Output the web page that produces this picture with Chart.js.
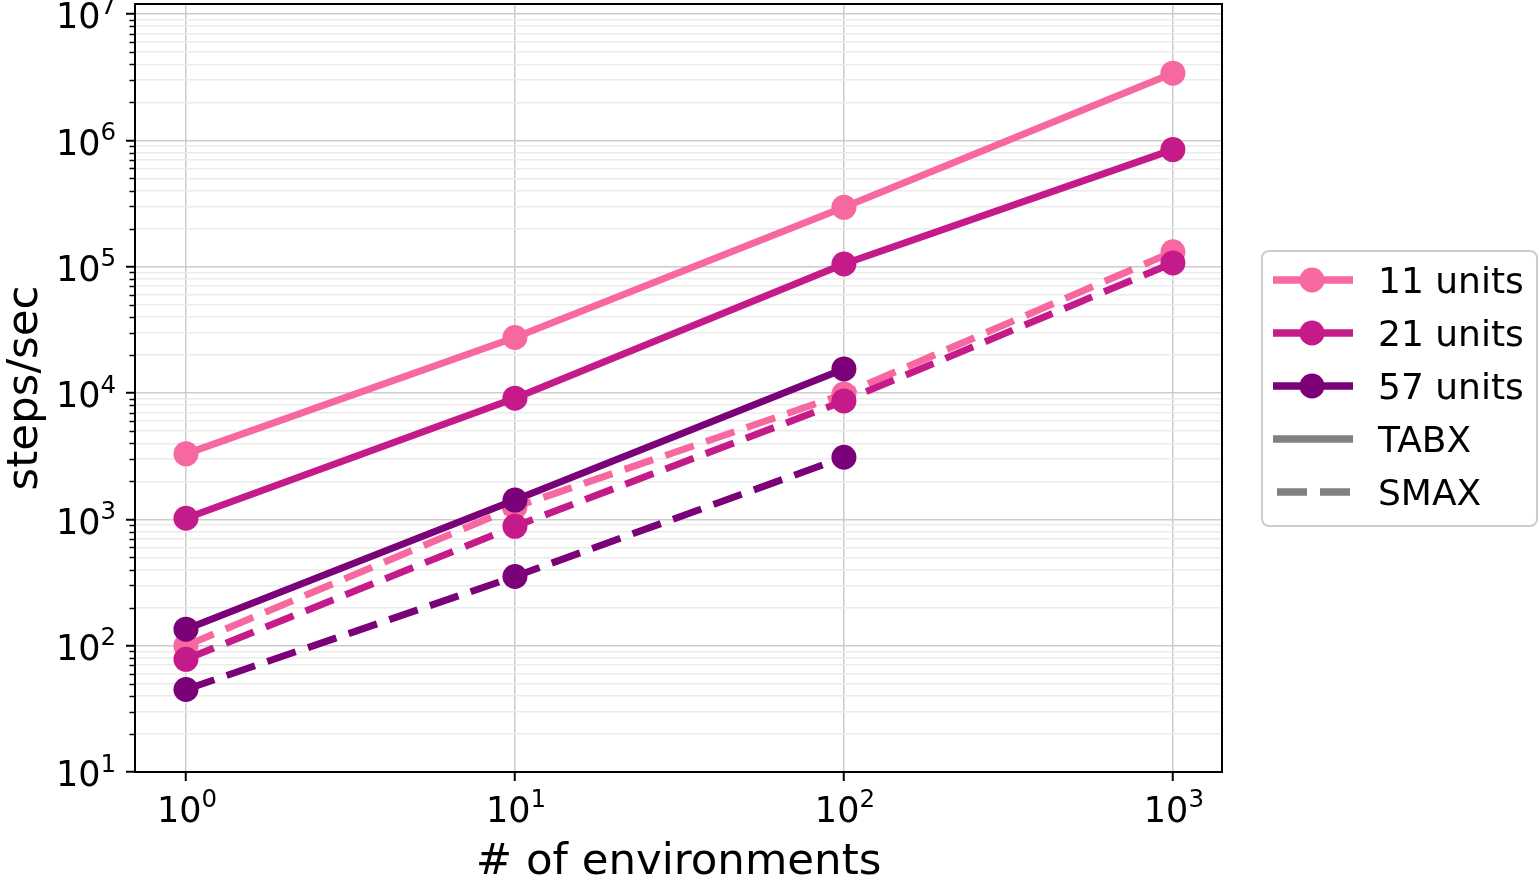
<!DOCTYPE html>
<html>
<head>
<meta charset="utf-8">
<script src="https://cdn.jsdelivr.net/npm/chart.js@4.4.0/dist/chart.umd.min.js"></script>
<style>
  html, body { margin: 0; padding: 0; background: #fff; }
  #wrap { width: 1539px; height: 884px; }
</style>
</head>
<body>
<div id="wrap"><canvas id="perfChart"></canvas></div>
<script>
// number of parallel environments
const envCounts = [1, 10, 100, 1000];

// steps/sec
const tabx11 = [3300, 27500, 295000, 3400000];
const tabx21 = [1020, 9100, 105000, 845000];
const tabx57 = [135, 1420, 15500];
const smax11 = [100, 1250, 9800, 131000];
const smax21 = [78, 880, 8650, 107000];
const smax57 = [45, 353, 3100];

const xTicks = [1, 10, 100, 1000];

const FONT = 'DejaVu Sans';
const C11 = '#f768a1', C21 = '#c51b8a', C57 = '#7a0177';
const DASH = [30, 13];

function isDecade(v) {
  const l = Math.log10(v);
  return Math.abs(l - Math.round(l)) < 1e-6;
}

// y ticks: every 1..9 x 10^k between 10 and 10^7
const yTicks = [];
for (let k = 1; k <= 7; k++) {
  for (let m = 1; m <= 9; m++) {
    const v = m * Math.pow(10, k);
    if (v <= 1e7) yTicks.push(v);
  }
}

function pts(ys) {
  return ys.map((y, i) => ({x: envCounts[i], y: y}));
}

const series = [
  {label: '11 units', color: C11, data: tabx11, dash: []},
  {label: '11 units', color: C11, data: smax11, dash: DASH},
  {label: '21 units', color: C21, data: tabx21, dash: []},
  {label: '21 units', color: C21, data: smax21, dash: DASH},
  {label: '57 units', color: C57, data: tabx57, dash: []},
  {label: '57 units', color: C57, data: smax57, dash: DASH},
];

const datasets = series.map((s, i) => ({
  label: s.label,
  data: pts(s.data),
  borderColor: s.color,
  backgroundColor: s.color,
  pointBackgroundColor: s.color,
  pointBorderWidth: 0,
  pointRadius: 12.5,
  pointHoverRadius: 12.5,
  borderWidth: 7,
  borderDash: s.dash,
  borderCapStyle: 'butt',
  tension: 0,
  fill: false,
  order: series.length - i
}));

const legendItems = [
  {text: '11 units', color: C11, marker: true, dash: []},
  {text: '21 units', color: C21, marker: true, dash: []},
  {text: '57 units', color: C57, marker: true, dash: []},
  {text: 'TABX', color: '#808080', marker: false, dash: []},
  {text: 'SMAX', color: '#808080', marker: false, dash: DASH},
];

// "10" with a raised exponent, like matplotlib's log labels
function drawPow(ctx, v, x, baseline, align) {
  const e = String(Math.round(Math.log10(v)));
  ctx.font = '35px "' + FONT + '"';
  const w1 = ctx.measureText('10').width;
  ctx.font = '24.5px "' + FONT + '"';
  const w2 = ctx.measureText(e).width;
  const total = w1 + w2;
  const x0 = align === 'right' ? x - total : x - total / 2;
  ctx.textAlign = 'left';
  ctx.textBaseline = 'alphabetic';
  ctx.fillStyle = '#000';
  ctx.font = '35px "' + FONT + '"';
  ctx.fillText('10', x0, baseline);
  ctx.font = '24.5px "' + FONT + '"';
  ctx.fillText(e, x0 + w1, baseline - 14.7);
}

const framePlugin = {
  id: 'frame',
  afterDraw(chart) {
    const ctx = chart.ctx;
    const a = chart.chartArea;
    const xs = chart.scales.x;
    const y = chart.scales.y;
    ctx.save();
    // minor ticks on y
    ctx.strokeStyle = '#000';
    ctx.lineWidth = 1.5;
    y.ticks.forEach(t => {
      if (isDecade(t.value)) return;
      const py = Math.round(y.getPixelForValue(t.value)) + 0.5;
      ctx.beginPath();
      ctx.moveTo(a.left - 5.5, py);
      ctx.lineTo(a.left, py);
      ctx.stroke();
    });
    // box
    ctx.lineWidth = 2;
    ctx.strokeRect(a.left, a.top, a.right - a.left, a.bottom - a.top);

    // tick labels
    y.ticks.forEach(t => {
      if (!isDecade(t.value)) return;
      drawPow(ctx, t.value, a.left - 19, y.getPixelForValue(t.value) + 14.2, 'right');
    });
    xs.ticks.forEach(t => {
      drawPow(ctx, t.value, xs.getPixelForValue(t.value) + 1, a.bottom + 49.7, 'center');
    });

    // legend
    const bx = 1262, by = 251, bw = 275, bh = 275, r = 7;
    ctx.beginPath();
    ctx.roundRect(bx, by, bw, bh, r);
    ctx.fillStyle = 'rgba(255,255,255,0.8)';
    ctx.fill();
    ctx.strokeStyle = '#cccccc';
    ctx.lineWidth = 2;
    ctx.stroke();

    ctx.font = '36px "' + FONT + '"';
    ctx.textBaseline = 'alphabetic';
    ctx.textAlign = 'left';
    legendItems.forEach((it, i) => {
      const cy = 280 + i * 53;
      ctx.strokeStyle = it.color;
      ctx.lineWidth = 7.5;
      ctx.setLineDash(it.dash);
      ctx.lineDashOffset = it.dash.length ? -4 : 0;
      ctx.beginPath();
      ctx.moveTo(1273, cy);
      ctx.lineTo(1353, cy);
      ctx.stroke();
      ctx.setLineDash([]);
      if (it.marker) {
        ctx.fillStyle = it.color;
        ctx.beginPath();
        ctx.arc(1312, cy, 12.5, 0, Math.PI * 2);
        ctx.fill();
      }
      ctx.fillStyle = '#000';
      ctx.fillText(it.text, 1378, cy + 13.3);
    });
    ctx.restore();
  }
};

const chart = new Chart(document.getElementById('perfChart'), {
  type: 'line',
  data: {datasets: datasets},
  options: {
    responsive: true,
    maintainAspectRatio: false,
    animation: false,
    layout: {autoPadding: false, padding: {left: 0, top: 4, right: 317, bottom: 0}},
    plugins: {
      legend: {display: false},
      tooltip: {enabled: false}
    },
    scales: {
      x: {
        type: 'logarithmic',
        min: 0.7,
        max: 1410,
        afterBuildTicks: s => { s.ticks = xTicks.map(v => ({value: v})); },
        afterFit: s => { s.height = 112; s.paddingLeft = 0; s.paddingRight = 0; },
        ticks: {display: false, autoSkip: false},
        grid: {
          color: '#cccccc',
          lineWidth: 1.5,
          tickColor: '#000',
          tickLength: 9,
          tickWidth: 2
        },
        border: {display: true, color: '#000', width: 2},
        title: {
          display: true,
          text: '# of environments',
          font: {family: FONT, size: 43.5, lineHeight: 1.0},
          color: '#000',
          padding: 0
        }
      },
      y: {
        type: 'logarithmic',
        min: 10,
        max: 1.2e7,
        afterBuildTicks: s => { s.ticks = yTicks.map(v => ({value: v})); },
        afterFit: s => { s.width = 135; s.paddingTop = 0; s.paddingBottom = 0; },
        ticks: {display: false, autoSkip: false},
        grid: {
          color: c => isDecade(c.tick.value) ? '#cccccc' : '#ebebeb',
          lineWidth: 1.5,
          tickColor: c => isDecade(c.tick.value) ? '#000' : 'rgba(0,0,0,0)',
          tickLength: 9,
          tickWidth: 2
        },
        border: {display: true, color: '#000', width: 2},
        title: {
          display: true,
          text: 'steps/sec',
          font: {family: FONT, size: 43.5},
          color: '#000',
          padding: 0
        }
      }
    }
  },
  plugins: [framePlugin]
});
</script>
</body>
</html>
